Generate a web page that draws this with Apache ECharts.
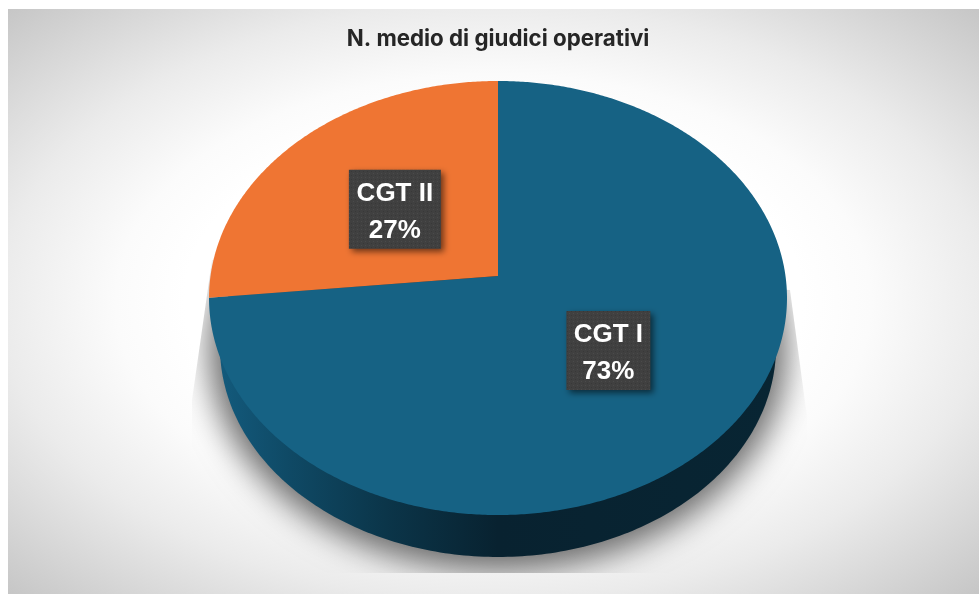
<!DOCTYPE html>
<html>
<head>
<meta charset="utf-8">
<title>N. medio di giudici operativi</title>
<style>
  html, body { margin: 0; padding: 0; background: #fff; }
  #backdrop {
    position: absolute; left: 8px; top: 9px; right: 0; bottom: 0;
    background: radial-gradient(ellipse farthest-corner at 50% 50%, #fff 0%, #fff 45%, #fbfbfb 55%, #ebebeb 72%, #c6c6c6 100%);
  }
  #chart { position: absolute; left: 0; top: 0; width: 979px; height: 594px; }
</style>
<script src="https://cdn.jsdelivr.net/npm/echarts@6/dist/echarts.min.js"></script>
</head>
<body>
<div id="backdrop"></div>
<div id="chart"></div>
<script>
// valori
const categories = ['CGT I', 'CGT II']
const values = [73.4, 26.6]
const colors = ['#166284', '#ef7533']

const chartTitle = 'N. medio di giudici operativi'

// piano della torta in prospettiva: apice e omografia del disco
const apex = { x: 498, y: 276 }
const disc = { a: 287.5, b: 214.8, p: 0.1014 }
// ellisse inferiore del bordo
const base = { cx: 498, cy: 347, rx: 278, ry: 210 }

const labelFont = 'bold 26px "Liberation Sans"'
const labelNudgeY = [0, 3]
const total = values.reduce((s, v) => s + v, 0)

// angolo in radianti, in senso orario da ore 12; t = distanza relativa dal centro
const project = (theta, t) => {
  const u = Math.sin(theta) * t
  const v = Math.cos(theta) * t
  const d = 1 + disc.p * v
  return [apex.x + disc.a * u / d, apex.y - disc.b * v / d]
}

const ellipsePoints = (grow, shiftX) => {
  const pts = []
  for (let i = 0; i < 360; i++) {
    const r = i * Math.PI / 180
    pts.push([
      base.cx + shiftX + (base.rx + grow) * Math.cos(r),
      base.cy + (base.ry + grow) * Math.sin(r)
    ])
  }
  return pts
}

// trama a puntini delle etichette
const dots = document.createElement('canvas')
dots.width = 4
dots.height = 4
const dotsCtx = dots.getContext('2d')
dotsCtx.fillStyle = '#404040'
dotsCtx.fillRect(0, 0, 4, 4)
dotsCtx.fillStyle = '#4b4b4b'
dotsCtx.fillRect(1, 1, 1, 1)
dotsCtx.fillStyle = '#383838'
dotsCtx.fillRect(3, 3, 1, 1)

const measure = document.createElement('canvas').getContext('2d')
measure.font = labelFont

const renderSector = (params) => {
  const i = params.dataIndex
  const before = values.slice(0, i).reduce((s, v) => s + v, 0)
  const start = before / total * Math.PI * 2
  const end = (before + values[i]) / total * Math.PI * 2

  const points = [[apex.x, apex.y]]
  const steps = Math.ceil((end - start) / (Math.PI / 360))
  for (let k = 0; k <= steps; k++) {
    points.push(project(start + (end - start) * k / steps, 1))
  }

  const mid = project((start + end) / 2, 0.5)
  mid[1] += labelNudgeY[i]
  const pct = Math.round(values[i] / total * 100) + '%'
  const boxW = Math.round(measure.measureText(categories[i]).width) + 15
  const boxH = 79

  return {
    type: 'group',
    children: [
      {
        type: 'polygon',
        shape: { points },
        style: { fill: colors[i] },
        z2: 1
      },
      {
        type: 'rect',
        shape: { x: mid[0] - boxW / 2, y: mid[1] - boxH / 2, width: boxW, height: boxH },
        style: {
          fill: { image: dots, repeat: 'repeat' },
          shadowColor: 'rgba(0,0,0,0.55)',
          shadowBlur: 6,
          shadowOffsetX: 3,
          shadowOffsetY: 3
        },
        z2: 5
      },
      {
        type: 'text',
        style: {
          x: mid[0],
          y: mid[1] + 2.5,
          text: categories[i] + '\n' + pct,
          fill: '#fff',
          font: labelFont,
          lineHeight: 37,
          align: 'center',
          verticalAlign: 'middle'
        },
        z2: 6
      }
    ]
  }
}

const renderBase = () => ({
  type: 'group',
  children: [
    {
      // ombra tagliata come nell'originale: la forma sta fuori pagina, resta solo l'ombra
      type: 'polygon',
      shape: { points: ellipsePoints(11, -2000) },
      style: {
        fill: '#888',
        shadowColor: 'rgba(0,0,0,0.58)',
        shadowBlur: 32,
        shadowOffsetX: 2000,
        shadowOffsetY: 2
      },
      clipPath: {
        type: 'polygon',
        shape: { points: [[212, 260], [192, 400], [192, 573], [807, 573], [807, 417], [790, 290]] }
      },
      z2: 0
    },
    {
      type: 'polygon',
      shape: { points: ellipsePoints(0, 0) },
      style: {
        fill: new echarts.graphic.LinearGradient(0, 0, 1, 0, [
          { offset: 0, color: '#135a7c' },
          { offset: 0.12, color: '#0f4a66' },
          { offset: 0.3, color: '#0b3549' },
          { offset: 0.5, color: '#082230' },
          { offset: 1, color: '#082533' }
        ])
      },
      z2: 1
    }
  ]
})

const chart = echarts.init(document.getElementById('chart'), null, { renderer: 'canvas' })

chart.setOption({
  animation: false,
  backgroundColor: 'transparent',
  title: {
    text: chartTitle,
    left: 493,
    top: 23,
    textAlign: 'center',
    textStyle: { fontFamily: 'Inter', fontWeight: 700, fontSize: 22.3, color: '#262626' }
  },
  series: [
    { type: 'custom', coordinateSystem: 'none', silent: true, z: 1, data: [0], renderItem: renderBase },
    { type: 'custom', coordinateSystem: 'none', silent: true, z: 2, data: values, renderItem: renderSector }
  ]
})
</script>
</body>
</html>
